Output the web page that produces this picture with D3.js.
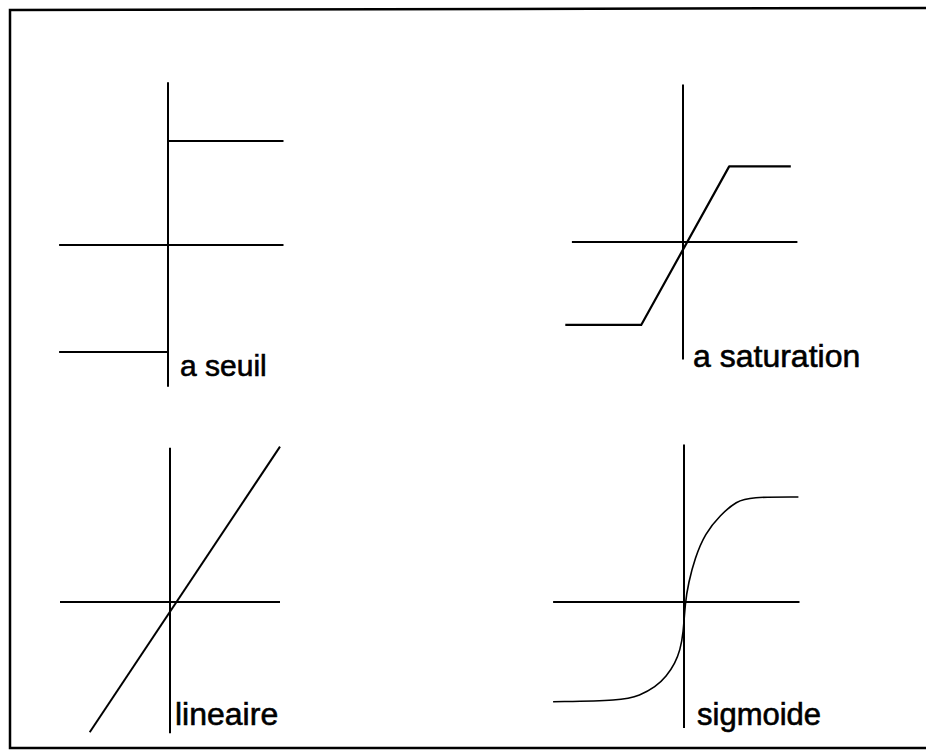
<!DOCTYPE html>
<html>
<head>
<meta charset="utf-8">
<script src="https://cdn.jsdelivr.net/npm/d3@7"></script>
<style>
  body { margin: 0; background: #fff; }
  text { font-family: "Liberation Sans", Arial, sans-serif; }
</style>
</head>
<body>
<div id="chart"></div>
<script>
// titles of the four activation functions
var labels = ["a seuil", "a saturation", "lineaire", "sigmoide"];

// axis extents in function units (x then y)
var hAxisX = [[-0.99, 1.05], [-1.01, 1.04], [-1.0, 1.0], [-1.19, 1.05]];
var vAxisY = [[-1.35, 1.55], [-1.12, 1.5], [-1.25, 1.47], [-1.2, 1.5]];

// curves
var seuilX = [-0.99, 0, 0, 1.05];
var seuilY = [-1.02, -1.02, 0.99, 0.99];

var saturationX = [-1.07, -0.38, 0.42, 0.98];
var saturationY = [-0.79, -0.79, 0.72, 0.72];

var lineaireX = [-0.73, 1.0];
var lineaireY = [-1.24, 1.48];

var sigmoideX = [-1.19, -0.57, -0.40, -0.26, -0.16, -0.08, -0.036, -0.006, 0.01, 0.04, 0.10, 0.19, 0.33, 0.48, 0.60, 1.04];
var sigmoideY = [-0.95, -0.94, -0.89, -0.81, -0.71, -0.58, -0.46, -0.30, -0.01, 0.18, 0.42, 0.65, 0.83, 0.96, 1.0, 1.0];

function init() {
    var w = 928;
    var h = 754;

    var svg = d3.select("#chart")
        .append("svg")
        .attr("width", w)
        .attr("height", h);

    // frame (top, left, bottom)
    svg.append("path")
        .attr("d", "M926,8 L10,10 L10,748 L926,748")
        .attr("fill", "none")
        .attr("stroke", "#000")
        .attr("stroke-width", 2.5);

    var panels = [
        { cx: 168, cy: 245, lx: 180, ly: 376, size: 30, xs: seuilX, ys: seuilY, curve: d3.curveLinear, sw: 2 },
        { cx: 683, cy: 242, lx: 693, ly: 367, size: 32, xs: saturationX, ys: saturationY, curve: d3.curveLinear, sw: 2.2 },
        { cx: 170, cy: 602, lx: 175, ly: 725, size: 32, xs: lineaireX, ys: lineaireY, curve: d3.curveLinear, sw: 2 },
        { cx: 684, cy: 602, lx: 697, ly: 725, size: 31, xs: sigmoideX, ys: sigmoideY, curve: d3.curveBasis, sw: 1.6 }
    ];

    panels.forEach(function(p, i) {
        var x = d3.scaleLinear().domain([-1, 1]).range([p.cx - 110, p.cx + 110]);
        var y = d3.scaleLinear().domain([-1, 1]).range([p.cy + 105, p.cy - 105]);

        var g = svg.append("g");

        // horizontal axis
        g.append("line")
            .attr("x1", x(hAxisX[i][0])).attr("x2", x(hAxisX[i][1]))
            .attr("y1", y(0)).attr("y2", y(0))
            .attr("stroke", "#000").attr("stroke-width", 2);

        // vertical axis
        g.append("line")
            .attr("x1", x(0)).attr("x2", x(0))
            .attr("y1", y(vAxisY[i][0])).attr("y2", y(vAxisY[i][1]))
            .attr("stroke", "#000").attr("stroke-width", 2);

        var pts = p.xs.map(function(d, j) { return [d, p.ys[j]]; });
        var line = d3.line()
            .x(function(d) { return x(d[0]); })
            .y(function(d) { return y(d[1]); })
            .curve(p.curve);

        g.append("path")
            .attr("d", line(pts))
            .attr("fill", "none")
            .attr("stroke", "#000")
            .attr("stroke-width", p.sw)
            .attr("stroke-linejoin", "round");

        g.append("text")
            .attr("x", p.lx)
            .attr("y", p.ly)
            .style("font-size", p.size + "px")
            .style("fill", "#000")
            .style("stroke", "#000")
            .style("stroke-width", 0.6)
            .text(labels[i]);
    });
}

window.onload = init;
</script>
</body>
</html>
